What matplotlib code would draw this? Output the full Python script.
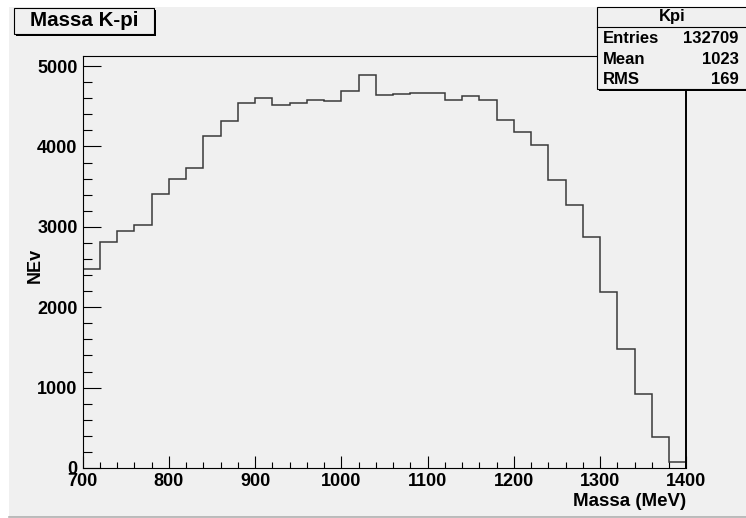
import matplotlib
matplotlib.use("Agg")
import matplotlib.pyplot as plt
from matplotlib.patches import Rectangle
from matplotlib.lines import Line2D
from matplotlib.ticker import MultipleLocator
import numpy as np

# ---- data ----
bin_edges = list(range(700, 1401, 20))
counts = [2480, 2811, 2951, 3026, 3408, 3591, 3727, 4126, 4321, 4541,
          4604, 4521, 4541, 4579, 4570, 4687, 4886, 4641, 4650, 4661,
          4661, 4579, 4629, 4583, 4325, 4180, 4019, 3583, 3267, 2868,
          2192, 1486, 925, 390, 70]
title = "Massa K-pi"
xlabel = "Massa (MeV)"
ylabel = "NEv"
stats_name = "Kpi"
stats_rows = [("Entries", "132709"), ("Mean", "1023"), ("RMS", "169")]

W, H = 746, 518
BG = "#f0f0f0"
plt.rcParams['font.family'] = ['Liberation Sans', 'DejaVu Sans']
plt.rcParams['font.weight'] = 'bold'

fig = plt.figure(figsize=(W / 100, H / 100), dpi=100)
fig.patch.set_facecolor("white")

def fx(x):
    return x / W

def fy(y):
    return 1 - y / H

# gray canvas area
fig.add_artist(Rectangle((fx(9), fy(517)), fx(W + 5) - fx(9), fy(7) - fy(517),
                         transform=fig.transFigure, facecolor=BG, edgecolor="none", zorder=-10))
fig.add_artist(Line2D([fx(9), fx(W)], [fy(517), fy(517)], transform=fig.transFigure,
                      color="#b0b0b0", lw=1.2, zorder=-9))

# axes
L, R, T, B = 82.5, 686.3, 56, 468
ax = fig.add_axes([fx(L), fy(B), fx(R) - fx(L), fy(T) - fy(B)])
ax.set_facecolor(BG)
ax.stairs(counts, bin_edges, color="#3a3a3a", lw=1.1, baseline=0)
ax.set_xlim(700, 1400)
ax.set_ylim(0, 5125)

for s in ax.spines.values():
    s.set_color("black")
    s.set_linewidth(0.8)
ax.spines['right'].set_linewidth(1.4)

ax.xaxis.set_major_locator(MultipleLocator(100))
ax.xaxis.set_minor_locator(MultipleLocator(20))
ax.yaxis.set_major_locator(MultipleLocator(1000))
ax.yaxis.set_minor_locator(MultipleLocator(200))
ax.tick_params(axis='y', which='major', direction='in', length=12.7, width=0.8, pad=3.6,
               labelsize=13)
ax.tick_params(axis='y', which='minor', direction='in', length=6.5, width=0.8)
ax.tick_params(axis='x', which='major', direction='in', length=8.6, width=0.8, pad=3.6,
               labelsize=13)
ax.tick_params(axis='x', which='minor', direction='in', length=4.3, width=0.8)
for lab in ax.get_xticklabels() + ax.get_yticklabels():
    lab.set_fontweight('bold')

# axis titles
fig.text(fx(686.3), fy(501), xlabel, ha="right", va="center", fontsize=13.5, fontweight="bold")
fig.text(fx(35), fy(265.5), ylabel, ha="center", va="center", rotation=90, fontsize=13,
         fontweight="bold")

# title box with shadow
def shadow_box(x0, y0, x1, y1, sh=2.5):
    fig.add_artist(Rectangle((fx(x0 + sh), fy(y1 + sh)), fx(x1 - x0), fy(y0) - fy(y1),
                             transform=fig.transFigure, facecolor="black", edgecolor="none",
                             zorder=5))
    fig.add_artist(Rectangle((fx(x0), fy(y1)), fx(x1 - x0), fy(y0) - fy(y1),
                             transform=fig.transFigure, facecolor=BG, edgecolor="black",
                             lw=0.8, zorder=6))

shadow_box(13.5, 8, 154, 33.5)
fig.text(fx(84), fy(20.5), title, ha="center", va="center", fontsize=14.75,
         fontweight="bold", zorder=7)

# stats box
shadow_box(597, 7.3, 750, 89.3, sh=1.8)
fig.add_artist(Line2D([fx(597), fx(W)], [fy(26.7), fy(26.7)], transform=fig.transFigure,
                      color="black", lw=0.8, zorder=7))
fig.text(fx(672), fy(17), stats_name, ha="center", va="center", fontsize=12,
         fontweight="bold", zorder=8)
row_y = [38.5, 59.5, 80]
for (k, v), yy in zip(stats_rows, row_y):
    fig.text(fx(603.3), fy(yy), k, ha="left", va="center", fontsize=12, fontweight="bold", zorder=8)
    fig.text(fx(738.7), fy(yy), v, ha="right", va="center", fontsize=12, fontweight="bold", zorder=8)

fig.savefig("out.png", dpi=100, facecolor=fig.get_facecolor())
